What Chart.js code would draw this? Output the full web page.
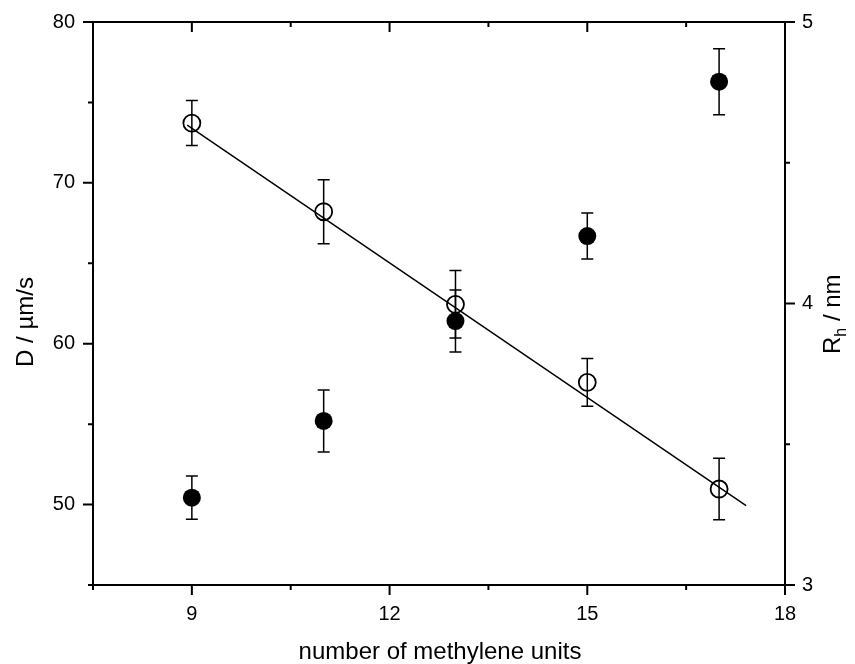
<!DOCTYPE html>
<html>
<head>
<meta charset="utf-8">
<script src="https://cdn.jsdelivr.net/npm/chart.js@4.4.1/dist/chart.umd.min.js"></script>
<style>
  html, body { margin: 0; padding: 0; background: #fff; }
  canvas { display: block; }
</style>
</head>
<body>
<canvas id="c" width="855" height="664"></canvas>
<script>
// ---- data ----
const methyleneUnits = [9, 11, 13, 15, 17];
const diffusionD = [50.43, 55.20, 61.41, 66.69, 76.29];      // µm/s, filled circles (left axis)
const diffusionErr = [1.34, 1.93, 1.93, 1.43, 2.05];
const radiusRh = [4.641, 4.326, 3.997, 3.720, 3.341];        // nm, open circles (right axis)
const radiusErr = [0.080, 0.114, 0.120, 0.085, 0.109];
const fitX = [8.93, 17.41];                                   // linear fit through Rh
const fitRh = [4.634, 3.282];
const xTickLabels = [9, 12, 15, 18];
const leftTickLabels = [50, 60, 70, 80];
const rightTickLabels = [3, 4, 5];

const FONT = "'Liberation Sans', Arial, sans-serif";

function pts(xs, ys) { return xs.map((x, i) => ({ x: x, y: ys[i] })); }

const decorPlugin = {
  id: 'decor',
  beforeDatasetsDraw(chart) {
    const ctx = chart.ctx;
    ctx.save();
    ctx.strokeStyle = '#000';
    ctx.lineWidth = 1.5;
    chart.data.datasets.forEach((ds, di) => {
      if (!ds.errors) return;
      const meta = chart.getDatasetMeta(di);
      const ys = chart.scales[ds.yAxisID];
      ds.data.forEach((p, i) => {
        const px = meta.data[i].x;
        const top = ys.getPixelForValue(p.y + ds.errors[i]);
        const bot = ys.getPixelForValue(p.y - ds.errors[i]);
        ctx.beginPath();
        ctx.moveTo(px, top); ctx.lineTo(px, bot);
        ctx.moveTo(px - 6, top); ctx.lineTo(px + 6, top);
        ctx.moveTo(px - 6, bot); ctx.lineTo(px + 6, bot);
        ctx.stroke();
      });
    });
    ctx.restore();
  },
  afterDraw(chart) {
    const ctx = chart.ctx;
    const ca = chart.chartArea;
    const sx = chart.scales.x, sy = chart.scales.y, sy2 = chart.scales.y2;
    ctx.save();
    ctx.strokeStyle = '#000';
    ctx.lineWidth = 2;
    // top frame line
    ctx.beginPath();
    ctx.moveTo(ca.left - 1, ca.top); ctx.lineTo(ca.right + 1, ca.top);
    ctx.stroke();
    ctx.beginPath();
    // x ticks: bottom outward, top inward
    sx.ticks.forEach(t => {
      const len = xTickLabels.includes(t.value) ? 10 : 5;
      const px = sx.getPixelForValue(t.value);
      ctx.moveTo(px, ca.bottom); ctx.lineTo(px, ca.bottom + len);
      ctx.moveTo(px, ca.top); ctx.lineTo(px, ca.top + len);
    });
    // left ticks outward
    sy.ticks.forEach(t => {
      const len = leftTickLabels.includes(t.value) ? 10 : 5;
      const py = sy.getPixelForValue(t.value);
      ctx.moveTo(ca.left - len, py); ctx.lineTo(ca.left, py);
    });
    // right ticks outward
    sy2.ticks.forEach(t => {
      const len = rightTickLabels.includes(t.value) ? 10 : 5;
      const py = sy2.getPixelForValue(t.value);
      ctx.moveTo(ca.right, py); ctx.lineTo(ca.right + len, py);
    });
    ctx.stroke();

    // axis titles
    ctx.fillStyle = '#000';
    ctx.font = '24px ' + FONT;
    ctx.textAlign = 'center';
    ctx.textBaseline = 'alphabetic';
    ctx.fillText('number of methylene units', 440, 659);

    // left title
    ctx.save();
    ctx.translate(33, 322);
    ctx.rotate(-Math.PI / 2);
    ctx.fillText('D / \u00B5m/s', 0, 0);
    ctx.restore();

    // right title with subscript
    ctx.save();
    ctx.translate(840, 354);
    ctx.rotate(-Math.PI / 2);
    ctx.textAlign = 'left';
    ctx.font = '24px ' + FONT;
    ctx.fillText('R', 0, 0);
    let w = ctx.measureText('R').width;
    ctx.font = '16px ' + FONT;
    ctx.fillText('h', w, 6);
    w += ctx.measureText('h').width;
    ctx.font = '24px ' + FONT;
    ctx.fillText(' / nm', w, 0);
    ctx.restore();

    ctx.restore();
  }
};

function noPad(s) { s.paddingTop = 0; s.paddingBottom = 0; s.paddingLeft = 0; s.paddingRight = 0; }

new Chart(document.getElementById('c'), {
  type: 'scatter',
  data: {
    datasets: [
      {
        label: 'fit',
        data: pts(fitX, fitRh),
        yAxisID: 'y2',
        showLine: true,
        borderColor: '#000',
        borderWidth: 1.5,
        pointRadius: 0,
        order: 3
      },
      {
        label: 'Rh',
        data: pts(methyleneUnits, radiusRh),
        errors: radiusErr,
        yAxisID: 'y2',
        pointRadius: 8.5,
        pointBorderWidth: 1.8,
        pointBackgroundColor: 'rgba(0,0,0,0)',
        pointBorderColor: '#000',
        order: 2
      },
      {
        label: 'D',
        data: pts(methyleneUnits, diffusionD),
        errors: diffusionErr,
        yAxisID: 'y',
        pointRadius: 9,
        pointBorderWidth: 0,
        pointBackgroundColor: '#000',
        pointBorderColor: '#000',
        order: 1
      }
    ]
  },
  options: {
    responsive: false,
    animation: false,
    devicePixelRatio: 1,
    layout: { padding: { top: 22, left: 0, right: 0, bottom: 0 } },
    plugins: { legend: { display: false }, tooltip: { enabled: false } },
    scales: {
      x: {
        type: 'linear', position: 'bottom', min: 7.5, max: 18,
        afterFit: s => { s.height = 79; noPad(s); },
        ticks: {
          stepSize: 1.5, autoSkip: false, maxRotation: 0, padding: 17,
          color: '#000', font: { family: FONT, size: 20 },
          callback: v => xTickLabels.includes(v) ? String(v) : ''
        },
        grid: { drawOnChartArea: false, drawTicks: false },
        border: { display: true, color: '#000', width: 2 }
      },
      y: {
        type: 'linear', position: 'left', min: 45, max: 80,
        afterFit: s => { s.width = 93; noPad(s); },
        ticks: {
          stepSize: 5, autoSkip: false, padding: 18,
          color: '#000', font: { family: FONT, size: 20 },
          callback: v => leftTickLabels.includes(v) ? String(v) : ''
        },
        grid: { drawOnChartArea: false, drawTicks: false },
        border: { display: true, color: '#000', width: 2 }
      },
      y2: {
        type: 'linear', position: 'right', min: 3, max: 5,
        afterFit: s => { s.width = 70; noPad(s); },
        ticks: {
          stepSize: 0.5, autoSkip: false, padding: 17,
          color: '#000', font: { family: FONT, size: 20 },
          callback: v => rightTickLabels.includes(v) ? String(v) : ''
        },
        grid: { drawOnChartArea: false, drawTicks: false },
        border: { display: true, color: '#000', width: 2 }
      }
    }
  },
  plugins: [decorPlugin]
});
</script>
</body>
</html>
